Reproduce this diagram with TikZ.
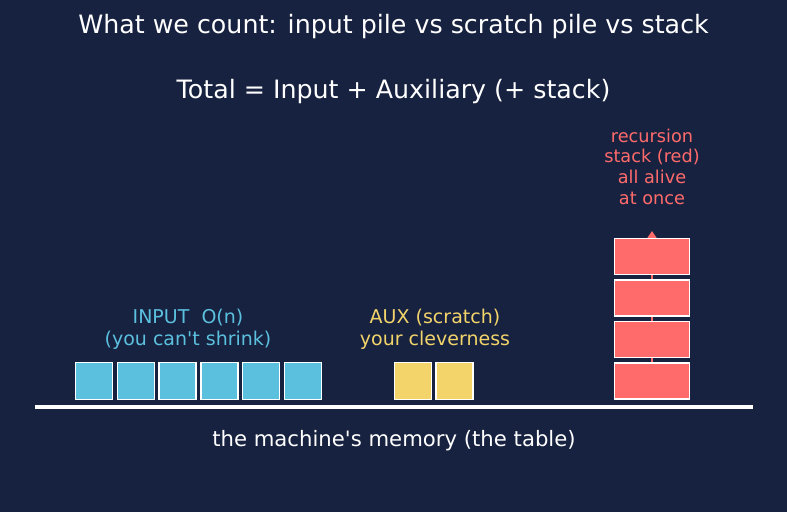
\documentclass[tikz,border=0pt]{standalone}
\usepackage{fontspec}
\setmainfont{DejaVu Sans}
\usetikzlibrary{arrows.meta}
\definecolor{bg}{RGB}{23,34,64}
\definecolor{cin}{RGB}{91,192,222}
\definecolor{caux}{RGB}{242,212,107}
\definecolor{cred}{RGB}{255,107,107}
\tikzset{
  cell/.style={draw=white, line width=1.3pt, minimum width=37pt, minimum height=37pt, inner sep=0pt},
  incell/.style={cell, fill=cin},
  auxcell/.style={cell, fill=caux},
  stkcell/.style={cell, fill=cred, minimum width=75pt, minimum height=36pt},
  lbl/.style={align=center, inner sep=0pt, font=\fontsize{19}{22}\selectfont}
}
\begin{document}
\begin{tikzpicture}[x=1pt,y=-1pt]
\fill[bg] (0,0) rectangle (787,512);
\useasboundingbox (0,0) rectangle (787,512);
\node[text=white, font=\fontsize{25.3}{30}\selectfont] (title) at (393.5,27) {What we count: input pile vs scratch pile vs stack};
\node[text=white, font=\fontsize{25.3}{30}\selectfont] (total) at (393.5,92) {Total = Input + Auxiliary (+ stack)};
% table
\coordinate (tl) at (35,407);
\coordinate (tr) at (753,407);
\draw[white, line width=4.5pt] (tl) -- (tr);
\node[text=white, font=\fontsize{21.2}{25}\selectfont] (mem) at (394,441) {the machine\textquotesingle s memory (the table)};
% input
\foreach \i in {0,...,5} {
  \node[incell] (in\i) at ({94+\i*41.8},381) {};
}
\node[lbl, text=cin] (inlbl) at (188,329) {INPUT\ \ O(n)\\(you can\textquotesingle t shrink)};
% aux
\node[auxcell] (aux0) at (413,381) {};
\node[auxcell] (aux1) at (454.5,381) {};
\node[lbl, text=caux] (auxlbl) at (435,329) {AUX (scratch)\\your cleverness};
% stack
\coordinate (stkbot) at (652,381);
\coordinate (stktop) at (652,231);
\draw[cred, line width=2.2pt, -{Triangle[length=7pt,width=9pt]}] (stkbot) -- (stktop);
\node[stkcell] (s0) at (652,381) {};
\node[stkcell] (s1) at (652,339.5) {};
\node[stkcell] (s2) at (652,298) {};
\node[stkcell] (s3) at (652,256.5) {};
\node[align=center, inner sep=0pt, text=cred, font=\fontsize{17.7}{20.7}\selectfont] (stklbl) at (652,166.5) {recursion\\stack (red)\\all alive\\at once};
\end{tikzpicture}
\end{document}
